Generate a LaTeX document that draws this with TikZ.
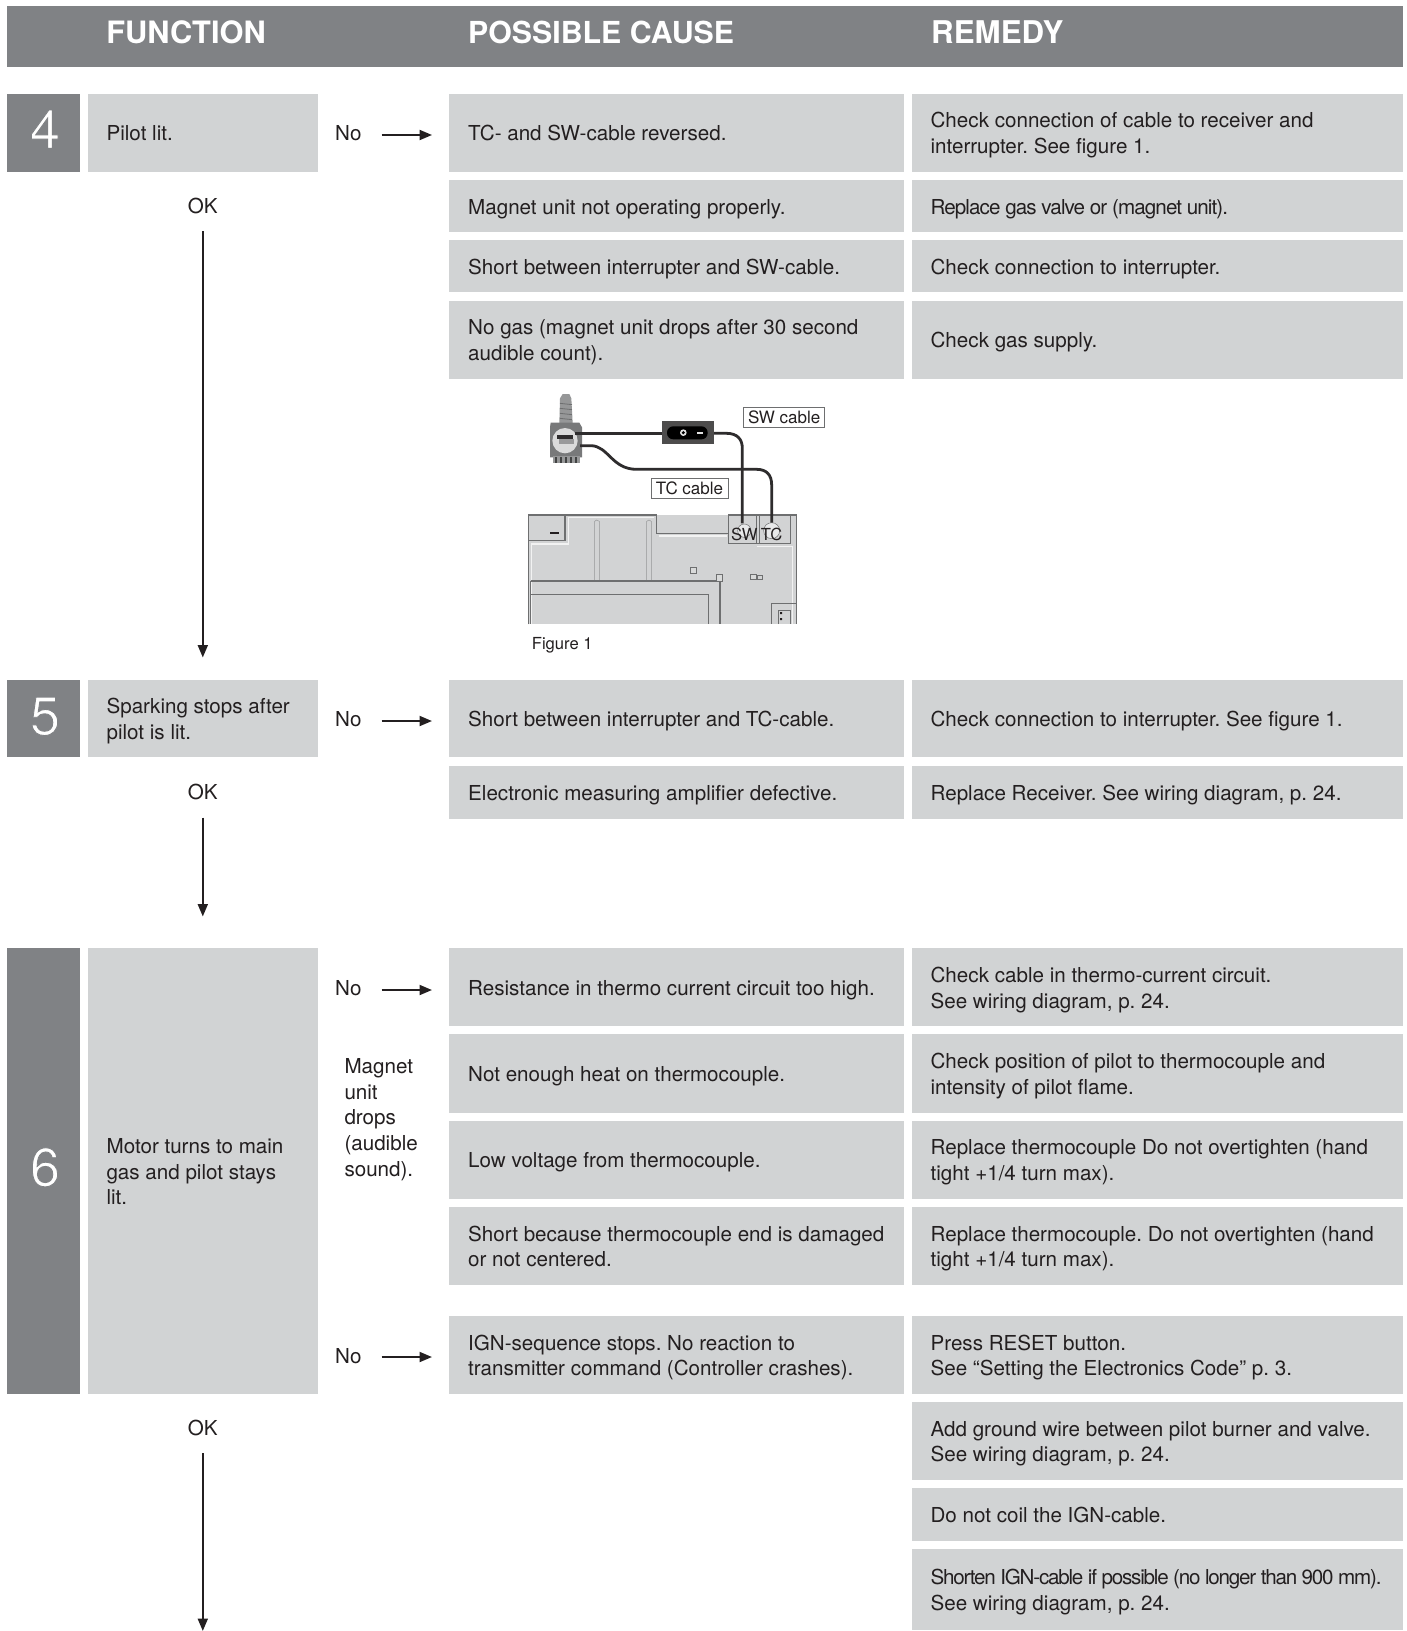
\documentclass[tikz,border=0pt]{standalone}
\usepackage{fontspec}
\setmainfont{TeX Gyre Heros}
\usetikzlibrary{arrows.meta}
\definecolor{darkg}{HTML}{808285}
\definecolor{lightg}{HTML}{D1D3D4}
\definecolor{ink}{HTML}{231F20}
\definecolor{panelg}{HTML}{D2D3D4}
\definecolor{edgeg}{HTML}{6E6F70}
\definecolor{wire}{HTML}{2E2C2D}
\newcommand{\strutt}{\rule{0pt}{22pt}}
\newcommand{\strutb}{\rule[-6pt]{0pt}{6pt}}
\newcommand{\tight}[1]{\addfontfeature{LetterSpace=#1}}
\newcommand{\thinned}[1]{\special{pdf:code q 2 Tr 0.9 w 0.502 0.510 0.522 RG}#1\special{pdf:code Q}}
\newcommand{\cell}[6]{%
  \pgfmathsetmacro{\cw}{#4-#2}\pgfmathsetmacro{\ch}{#5-#3}%
  \pgfmathsetmacro{\cx}{(#2+#4)/2}\pgfmathsetmacro{\cy}{(#3+#5)/2}%
  \pgfmathsetmacro{\tx}{#2+18.7}%
  \node[cellbox,minimum width=\cw pt,minimum height=\ch pt] (#1) at (\cx,\cy) {};
  \node[celltext] (#1t) at (\tx,\cy) {\strutt #6\strutb};}
\tikzset{
  cellbox/.style={fill=lightg,inner sep=0pt},
  celltext/.style={text=ink,inner sep=0pt,anchor=west,align=left,font=\fontsize{20.6}{25.7}\selectfont\frenchspacing},
  numtext/.style={text=white,anchor=base,inner sep=0pt,font=\fontsize{54}{54}\selectfont},
  head/.style={text=white,anchor=base west,inner sep=0pt},
  lbl/.style={text=ink,inner sep=0pt,font=\fontsize{20.6}{25.7}\selectfont},
  arr/.style={draw=ink,line width=2pt,-{Stealth[length=12.5pt,width=10pt,inset=0pt]}},
  figtxt/.style={text=ink,inner sep=0pt,font=\fontsize{16.6}{20}\selectfont},
  figbox/.style={draw=edgeg,line width=0.9pt,fill=white,text=ink,inner sep=0pt,font=\fontsize{17}{20}\selectfont},
  wireline/.style={draw=wire,line width=2.8pt},
  pedge/.style={draw=edgeg,line width=1.1pt},
  plight/.style={draw=white!70!panelg,line width=1.4pt},
}
\begin{document}
\begin{tikzpicture}[x=1pt,y=-1pt]
\useasboundingbox (0,0) rectangle (1407,1631);
\fill[white] (0,0) rectangle (1407,1631);
% header
\fill[darkg] (7,6) rectangle (1403,66.7);
\node[head,font=\fontsize{30.8}{32}\selectfont\bfseries] (hf) at (106.2,43.3) {FUNCTION};
\node[head,font=\fontsize{30.3}{32}\selectfont\bfseries] (hc) at (468,43) {POSSIBLE CAUSE};
\node[head,font=\fontsize{31.3}{32}\selectfont\bfseries] (hr) at (931,43) {REMEDY};
% step 4
\fill[darkg] (7,93.5) rectangle (79.7,171.6);
\node[numtext] (n4) at (45,148.3) {\thinned{4}};
\cell{f4}{87.7}{93.5}{317.7}{171.6}{Pilot lit.}
\cell{c41}{449.3}{93.5}{903.8}{171.6}{TC- and SW-cable reversed.}
\cell{r41}{911.7}{93.5}{1402.7}{171.6}{Check connection of cable to receiver and\\interrupter. See figure 1.}
\cell{c42}{449.3}{180}{903.8}{232}{Magnet unit not operating properly.}
\cell{r42}{911.7}{180}{1402.7}{232}{\tight{-4.4}Replace gas valve or (magnet unit).}
\cell{c43}{449.3}{240.2}{903.8}{292.2}{Short between interrupter and SW-cable.}
\cell{r43}{911.7}{240.2}{1402.7}{292.2}{Check connection to interrupter.}
\cell{c44}{449.3}{300.6}{903.8}{378.6}{No gas (magnet unit drops after 30 second\\audible count).}
\cell{r44}{911.7}{300.6}{1402.7}{378.6}{Check gas supply.}
\node[lbl,anchor=base west] (no4) at (335,140) {No};
\coordinate (no4a) at (381.7,135);
\coordinate (no4b) at (432,135);
\draw[arr] (no4a) -- (no4b);
\node[lbl,anchor=base] (ok4) at (202.8,213.3) {OK};
\coordinate (ok4a) at (202.8,231);
\coordinate (ok4b) at (202.8,657.5);
\draw[arr] (ok4a) -- (ok4b);
% figure 1
\begin{scope}[shift={(500,380)},x=0.33333pt,y=-0.33333pt]
  % panel
  \fill[panelg] (85,405) rectangle (890,733);
  \draw[plight] (95,733) -- (95,492) -- (205,492) -- (205,412) -- (462,412);
  \draw[plight] (478,468) -- (680,468);
  \draw[plight] (878,733) -- (878,500) -- (772,500);
  \draw[pedge] (85,733) -- (85,405) -- (470,405) -- (470,460) -- (685,460) -- (685,405) -- (890,405) -- (890,733);
  \draw[pedge] (85,482) -- (195,482) -- (195,405);
  \draw[pedge] (685,460) -- (685,490) -- (770,490) -- (770,405);
  \draw[pedge,line width=0.6pt] (778,405) -- (778,490) -- (870,490) -- (870,405);
  \draw[pedge,line width=0.6pt] (770,490) -- (778,490);
  \draw[pedge] (890,670) -- (815,670) -- (815,733);
  \draw[edgeg,line width=0.5pt] (835,690) -- (870,690) (835,690) -- (835,733) (870,690) -- (870,733);
  \fill[ink] (840,696) rectangle (846,702) (840,714) rectangle (846,720);
  % slots
  \draw[edgeg!60!panelg,line width=0.5pt] (284,603) -- (284,424) -- (290,420) -- (298,424) -- (298,603);
  \draw[edgeg!60!panelg,line width=0.5pt] (440,603) -- (440,424) -- (447,420) -- (454,424) -- (454,603);
  % window
  \draw[pedge] (92,603) -- (660,603) -- (660,733);
  \draw[pedge,line width=0.8pt] (92,642) -- (625,642) -- (625,733);
  \draw[pedge,line width=0.8pt] (92,603) -- (92,733);
  % small marks
  \draw[edgeg,line width=0.5pt,fill=panelg!85!white] (572,562) rectangle (588,580);
  \draw[edgeg,line width=0.5pt,fill=panelg!85!white] (650,582) rectangle (666,604);
  \draw[edgeg,line width=0.5pt,fill=panelg!85!white] (752,582) rectangle (770,597);
  \draw[edgeg,line width=0.3pt] (772,584) rectangle (786,597);
  % minus mark
  \fill[ink] (149,455) rectangle (177,461);
  % terminal circles
  \draw[edgeg,line width=0.5pt,fill=white!50!panelg] (733,452) circle (20);
  \draw[edgeg,line width=0.5pt,fill=white!50!panelg] (815,452) circle (24);
  % valve
  \fill[edgeg!60!panelg] (180,55) -- (188,42) -- (208,42) -- (214,55) -- (218,130) -- (178,130) -- cycle;
  \foreach \yy in {70,85,100,115} \draw[edgeg,line width=0.8pt] (180,\yy) -- (216,\yy+4);
  \fill[edgeg!90!panelg] (152,128) -- (238,128) -- (246,142) -- (246,232) -- (150,232) -- (150,142) -- cycle;
  \fill[edgeg!60!panelg] (158,228) rectangle (240,248);
  \foreach \xx in {165,180,195,210,225} \fill[edgeg!60!black] (\xx,230) rectangle (\xx+5,248);
  \fill[white!75!edgeg] (195,182) circle (38);
  \fill[wire] (172,164) rectangle (218,176);
  \fill[edgeg!70!white] (176,178) rectangle (222,192);
  % wires
  \draw[wireline] (225,160) -- (490,160);
  \draw[wireline] (635,160) -- (680,160) .. controls (712,160) and (727,178) .. (727,205) -- (727,430);
  \draw[wireline] (240,197) -- (272,197) .. controls (325,197) and (335,268) .. (410,268) -- (770,268) .. controls (800,268) and (815,285) .. (815,315) -- (815,428);
  % switch
  \fill[wire!85!white] (485,122) rectangle (641,192);
  \fill[black,rounded corners=6.2pt] (501,139) rectangle (623,178);
  \fill[white!80!edgeg] (550,158) circle (10);
  \fill[black] (550,158) circle (5);
  \fill[white!80!edgeg] (592,155) rectangle (610,161);
  % labels
  \node[figbox,minimum width=81pt,minimum height=20pt] (swl) at (852.5,111) {SW cable};
  \node[figbox,minimum width=77pt,minimum height=20pt] (tcl) at (568.5,325) {TC cable};
  \node[figtxt] (swt) at (733,464) {SW};
  \node[figtxt] (tct) at (815,464) {TC};
  \node[figtxt,anchor=base west] (figc) at (95,808) {Figure 1};
\end{scope}
% step 5
\fill[darkg] (7,680) rectangle (79.7,757);
\node[numtext] (n5) at (45,734.7) {\thinned{5}};
\cell{f5}{87.7}{680}{317.7}{757}{Sparking stops after\\pilot is lit.}
\cell{c51}{449.3}{680}{903.8}{757}{Short between interrupter and TC-cable.}
\cell{r51}{911.7}{680}{1402.7}{757}{Check connection to interrupter. See figure 1.}
\cell{c52}{449.3}{766.4}{903.8}{818.5}{Electronic measuring amplifier defective.}
\cell{r52}{911.7}{766.4}{1402.7}{818.5}{Replace Receiver. See wiring diagram, p. 24.}
\node[lbl,anchor=base west] (no5) at (335,726.5) {No};
\coordinate (no5a) at (381.7,721);
\coordinate (no5b) at (432,721);
\draw[arr] (no5a) -- (no5b);
\node[lbl,anchor=base] (ok5) at (202.8,799.7) {OK};
\coordinate (ok5a) at (202.8,817.5);
\coordinate (ok5b) at (202.8,916.5);
\draw[arr] (ok5a) -- (ok5b);
% step 6
\fill[darkg] (7,948.3) rectangle (79.7,1394);
\node[numtext] (n6) at (45,1186) {\thinned{6}};
\cell{f6}{87.7}{948.3}{317.7}{1394}{Motor turns to main\\gas and pilot stays\\lit.}
\cell{c61}{449.3}{948.3}{903.8}{1026.3}{Resistance in thermo current circuit too high.}
\cell{r61}{911.7}{948.3}{1402.7}{1026.3}{Check cable in thermo-current circuit.\\See wiring diagram, p. 24.}
\cell{c62}{449.3}{1034.3}{903.8}{1112.7}{Not enough heat on thermocouple.}
\cell{r62}{911.7}{1034.3}{1402.7}{1112.7}{Check position of pilot to thermocouple and\\intensity of pilot flame.}
\cell{c63}{449.3}{1120.7}{903.8}{1198.7}{Low voltage from thermocouple.}
\cell{r63}{911.7}{1120.7}{1402.7}{1198.7}{Replace thermocouple Do not overtighten (hand\\tight +1/4 turn max).}
\cell{c64}{449.3}{1206.7}{903.8}{1285}{Short because thermocouple end is damaged\\or not centered.}
\cell{r64}{911.7}{1206.7}{1402.7}{1285}{Replace thermocouple. Do not overtighten (hand\\tight +1/4 turn max).}
\cell{c65}{449.3}{1316}{903.8}{1394}{IGN-sequence stops. No reaction to\\transmitter command (Controller crashes).}
\cell{r65}{911.7}{1316}{1402.7}{1394}{Press RESET button.\\See “Setting the Electronics Code” p. 3.}
\cell{r66}{911.7}{1402}{1402.7}{1480}{Add ground wire between pilot burner and valve.\\See wiring diagram, p. 24.}
\cell{r67}{911.7}{1488.3}{1402.7}{1540.7}{Do not coil the IGN-cable.}
\cell{r68}{911.7}{1549}{1402.7}{1630}{{\tight{-5.85}Shorten IGN-cable if possible (no longer than 900 mm).}\\See wiring diagram, p. 24.}
\node[lbl,anchor=base west] (no61) at (335,995) {No};
\coordinate (no61a) at (381.7,990);
\coordinate (no61b) at (432,990);
\draw[arr] (no61a) -- (no61b);
\node[lbl,anchor=north west,align=left] (mag) at (344.3,1051.3) {\strutt Magnet\\unit\\drops\\(audible\\sound).};
\node[lbl,anchor=base west] (no62) at (335,1363) {No};
\coordinate (no62a) at (381.7,1357);
\coordinate (no62b) at (432,1357);
\draw[arr] (no62a) -- (no62b);
\node[lbl,anchor=base] (ok6) at (202.8,1435.5) {OK};
\coordinate (ok6a) at (202.8,1453);
\coordinate (ok6b) at (202.8,1631);
\draw[arr] (ok6a) -- (ok6b);
\end{tikzpicture}
\end{document}
